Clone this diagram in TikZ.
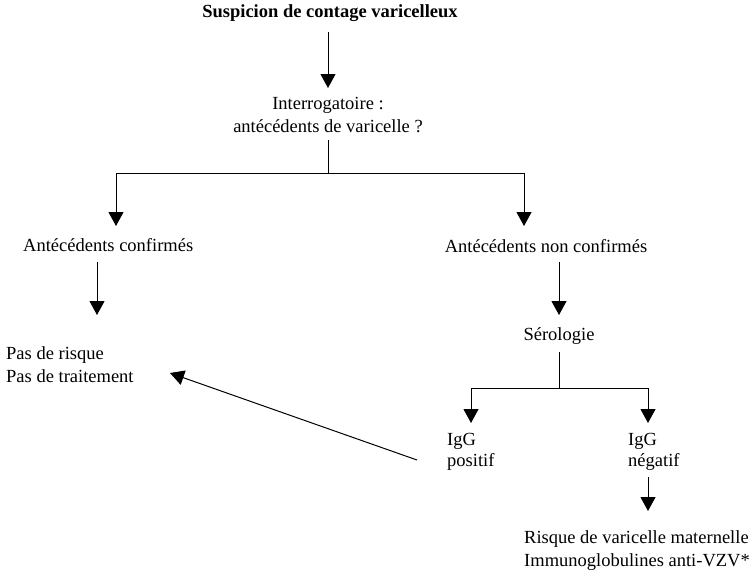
\documentclass[tikz,border=0pt]{standalone}
\usepackage{fontspec}
\setmainfont{Liberation Serif}
\usetikzlibrary{arrows.meta}
\begin{document}
\begin{tikzpicture}[x=1pt,y=-1pt,
  lbl/.style={font=\fontsize{18.5}{23}\selectfont, inner sep=0pt, align=center},
  lft/.style={lbl, align=left, anchor=west},
  arr/.style={draw, line width=1pt, -{Triangle[width=15pt,length=14pt]}},
  ln/.style={draw, line width=1pt}]
\useasboundingbox (0,0) rectangle (754,571);
% nodes
\node[lbl, font=\fontsize{18.5}{23}\selectfont\bfseries] (title) at (330,13) {Suspicion de contage varicelleux};
\node[lbl] (interro) at (328,115) {Interrogatoire :\\antécédents de varicelle ?};
\node[lft] (conf) at (23,245) {Antécédents confirmés};
\node[lbl] (nonconf) at (546,246) {Antécédents non confirmés};
\node[lft] (pas) at (6,365) {Pas de risque\\Pas de traitement};
\node[lbl] (sero) at (559,336) {Sérologie};
\node[lft, font=\fontsize{18.5}{21}\selectfont] (igpos) at (447,452) {IgG\\positif};
\node[lft, font=\fontsize{18.5}{21}\selectfont] (igneg) at (628,452) {IgG\\négatif};
\node[lft] (risque) at (524,551) {Risque de varicelle maternelle\\Immunoglobulines anti-VZV*};
% connector points
\coordinate (t1) at (328,32);  \coordinate (t2) at (328,88);
\coordinate (b0) at (328,140); \coordinate (b1) at (328,173);
\coordinate (bl) at (116,173); \coordinate (br) at (524,173);
\coordinate (blt) at (116,226); \coordinate (brt) at (524,226);
\coordinate (c1) at (97,262);  \coordinate (c2) at (97,315);
\coordinate (n1) at (559,262); \coordinate (n2) at (559,315);
\coordinate (s0) at (559,352); \coordinate (s1) at (559,388);
\coordinate (sl) at (471,388); \coordinate (sr) at (648,388);
\coordinate (slt) at (471,423); \coordinate (srt) at (648,423);
\coordinate (g1) at (648,477); \coordinate (g2) at (648,511);
\coordinate (p1) at (417,460); \coordinate (p2) at (170,373);
% connectors
\draw[arr] (t1) -- (t2);
\draw[ln] (b0) -- (b1);
\draw[ln] (bl) -- (br);
\draw[arr] (bl) -- (blt);
\draw[arr] (br) -- (brt);
\draw[arr] (c1) -- (c2);
\draw[arr] (n1) -- (n2);
\draw[ln] (s0) -- (s1);
\draw[ln] (sl) -- (sr);
\draw[arr] (sl) -- (slt);
\draw[arr] (sr) -- (srt);
\draw[arr] (g1) -- (g2);
\draw[arr] (p1) -- (p2);
\end{tikzpicture}
\end{document}
